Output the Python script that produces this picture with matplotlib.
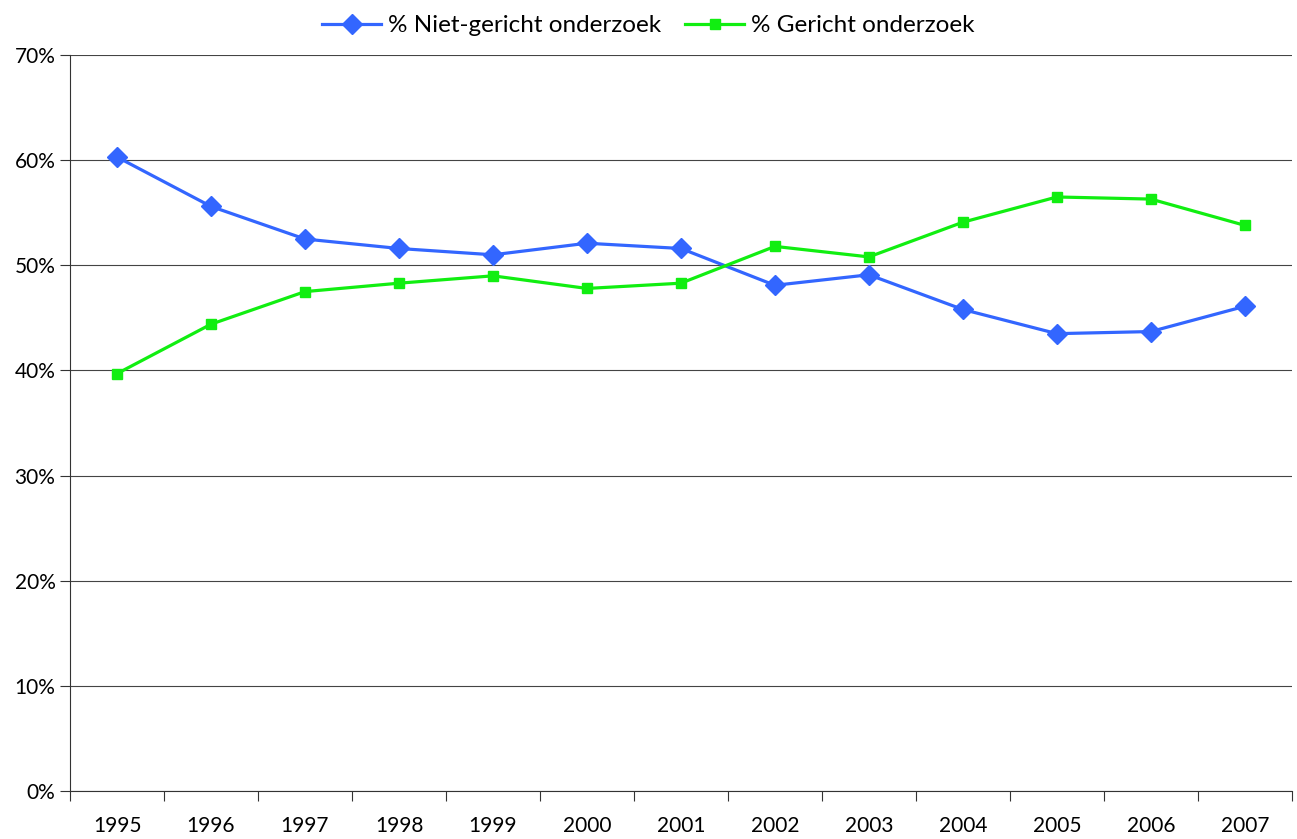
import matplotlib
matplotlib.use("Agg")
import matplotlib.pyplot as plt
from matplotlib.ticker import FuncFormatter, MultipleLocator, FixedLocator
import numpy as np

# Aandeel niet-gericht vs gericht onderzoek, 1995-2007
years = ["1995", "1996", "1997", "1998", "1999", "2000", "2001",
         "2002", "2003", "2004", "2005", "2006", "2007"]
niet_gericht = [60.3, 55.6, 52.5, 51.6, 51.0, 52.1, 51.6, 48.1, 49.1, 45.8, 43.5, 43.7, 46.1]
gericht = [39.7, 44.4, 47.5, 48.3, 49.0, 47.8, 48.3, 51.8, 50.8, 54.1, 56.5, 56.3, 53.8]

plt.rcParams['font.family'] = ['Lato', 'DejaVu Sans']


def main():
    fig = plt.figure(figsize=(12.97, 8.39), dpi=100)
    ax = fig.add_axes([0.054, 0.0572, 0.942, 0.8772])

    x = np.arange(len(years))
    ax.plot(x, niet_gericht, color='#3366ff', lw=2.3, marker='D', ms=10,
            label='% Niet-gericht onderzoek', zorder=3)
    ax.plot(x, gericht, color='#11ee11', lw=2.3, marker='s', ms=6.5,
            label='% Gericht onderzoek', zorder=3)

    ax.set_xlim(-0.5, len(years) - 0.5)
    ax.set_ylim(0, 70)
    ax.yaxis.set_major_locator(MultipleLocator(10))
    ax.yaxis.set_major_formatter(FuncFormatter(lambda v, p: f"{v:.0f}%"))
    ax.grid(axis='y', color='#444444', lw=0.8)
    ax.set_axisbelow(True)

    # ticks between categories, labels centred on the categories
    ax.xaxis.set_major_locator(FixedLocator(np.arange(-0.5, len(years), 1)))
    ax.xaxis.set_major_formatter(FuncFormatter(lambda v, p: ""))
    ax.set_xticks(x, minor=True)
    ax.set_xticklabels(years, minor=True)
    ax.tick_params(axis='x', which='minor', length=0, pad=18, labelsize=15)
    ax.tick_params(axis='x', which='major', length=7, direction='out', color='#333333')
    ax.tick_params(axis='y', length=7, direction='out', labelsize=15, color='#333333')

    for side in ['top', 'right']:
        ax.spines[side].set_visible(False)
    ax.spines['left'].set_color('#333333')
    ax.spines['bottom'].set_color('#333333')

    fig.legend(loc='upper center', bbox_to_anchor=(0.5, 1.008), ncol=2, frameon=False,
               fontsize=17.5, handlelength=2.4, columnspacing=1.0, handletextpad=0.3)

    fig.savefig("out.png", dpi=100)


if __name__ == '__main__':
    main()
